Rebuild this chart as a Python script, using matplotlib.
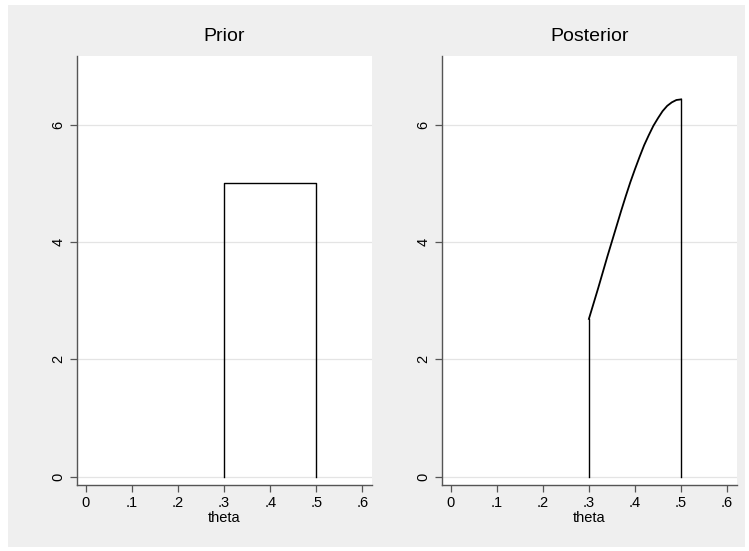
import matplotlib.pyplot as plt
from matplotlib.patches import Rectangle

# prior: uniform on [.3, .5]
prior_theta = [0.3, 0.3, 0.5, 0.5]
prior_dens = [0, 5, 5, 0]

# posterior density
post_theta = [0.30, 0.31, 0.32, 0.33, 0.34, 0.35, 0.36, 0.37, 0.38, 0.39, 0.40,
              0.41, 0.42, 0.43, 0.44, 0.45, 0.46, 0.47, 0.48, 0.49, 0.50]
post_dens = [2.69, 2.95, 3.21, 3.48, 3.75, 4.01, 4.27, 4.53, 4.78, 5.02, 5.24,
             5.45, 5.65, 5.82, 5.98, 6.11, 6.23, 6.32, 6.38, 6.42, 6.43]

xticks = [0, 0.1, 0.2, 0.3, 0.4, 0.5, 0.6]
xticklabels = ['0', '.1', '.2', '.3', '.4', '.5', '.6']
yticks = [0, 2, 4, 6]

plt.rcParams['font.family'] = ['Liberation Sans', 'DejaVu Sans']

fig = plt.figure(figsize=(7.49, 5.51), dpi=100, facecolor='white')
W, H = 749, 551
# light gray graph region with a thin white margin (Stata look)
fig.patches.append(Rectangle((8 / W, 4 / H), 737 / W, 542 / H, transform=fig.transFigure,
                             facecolor='#efefef', edgecolor='none', zorder=-10))

ax1 = fig.add_axes([0.1024, 0.1198, 0.3943, 0.7786])
ax2 = fig.add_axes([0.5895, 0.1198, 0.3941, 0.7786])

ax1.plot(prior_theta, prior_dens, color='black', lw=1.0)
ax2.plot(post_theta, post_dens, color='black', lw=1.3)
ax2.plot([post_theta[0], post_theta[0]], [0, post_dens[0]], color='black', lw=1.0)
ax2.plot([post_theta[-1], post_theta[-1]], [0, post_dens[-1]], color='black', lw=1.0)

for ax, title in [(ax1, 'Prior'), (ax2, 'Posterior')]:
    ax.set_facecolor('white')
    ax.set_xlim(-0.02, 0.621)
    ax.set_ylim(-0.14, 7.17)
    ax.set_xticks(xticks)
    ax.set_xticklabels(xticklabels)
    ax.set_yticks(yticks)
    ax.set_yticklabels([str(v) for v in yticks], rotation=90, va='center')
    ax.grid(axis='y', color='#e4e4e4', lw=0.9)
    ax.set_axisbelow(True)
    for s in ['top', 'right']:
        ax.spines[s].set_visible(False)
    for s in ['left', 'bottom']:
        ax.spines[s].set_color('#555555')
        ax.spines[s].set_linewidth(1.0)
    ax.tick_params(direction='out', length=5, width=0.9, color='#555555',
                   labelsize=10.5, pad=3)
    ax.set_title(title, fontsize=14, pad=11)
    ax.set_xlabel('theta', fontsize=10.5, labelpad=1)

fig.savefig('out.png', dpi=100, facecolor=fig.get_facecolor())
